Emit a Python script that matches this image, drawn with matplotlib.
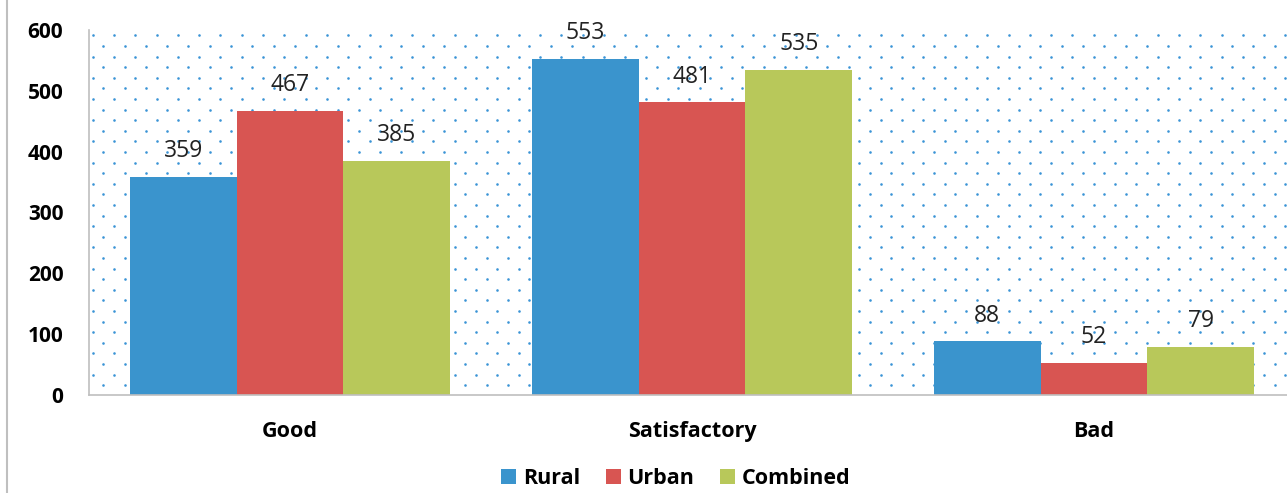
import numpy as np
import matplotlib.pyplot as plt
from matplotlib.lines import Line2D

categories = ["Good", "Satisfactory", "Bad"]
series_names = ["Rural", "Urban", "Combined"]
rural = [359, 553, 88]
urban = [467, 481, 52]
combined = [385, 535, 79]
colors = ["#3A94CD", "#D85552", "#B8C85A"]

plt.rcParams['font.family'] = ['Open Sans', 'DejaVu Sans']

fig = plt.figure(figsize=(12.87, 4.93), dpi=100)
ax = fig.add_axes([89 / 1287, 98 / 493, 1206 / 1287, 365 / 493])

# dotted background texture (staggered lattice, in axes fraction)
dx = 21.3 / 1206
dy = 10.6 / 365
rows = np.arange(0, 1.0 + 1e-9, dy)
dots_x, dots_y = [], []
for i, yy in enumerate(rows):
    start = 0.003 if i % 2 == 0 else 0.003 + dx / 2
    xs = np.arange(start, 1.0, dx)
    dots_x.extend(xs)
    dots_y.extend([1 - 0.015 - yy] * len(xs))
dots_y = np.array(dots_y)
keep = dots_y > 0.005
ax.scatter(np.array(dots_x)[keep], dots_y[keep], s=3.5, color="#3A94D6",
           transform=ax.transAxes, zorder=0, linewidths=0, clip_on=False)

x = np.arange(len(categories))
w = 0.266
for k, (vals, c) in enumerate(zip([rural, urban, combined], colors)):
    pos = x + (k - 1) * w
    bars = ax.bar(pos, vals, width=w, color=c, label=series_names[k], zorder=2)
    for b, v in zip(bars, vals):
        ax.annotate(str(v), (b.get_x() + b.get_width() / 2, v),
                    xytext=(0, 10), textcoords="offset points",
                    ha="center", va="bottom", fontsize=16.5, color="#222222")

ax.set_xlim(-0.5, 2.5)
ax.set_ylim(0, 600)
ax.set_yticks(range(0, 601, 100))
ax.set_xticks(x)
ax.set_xticklabels(categories, fontsize=15.5, fontweight="bold")
for t in ax.get_yticklabels():
    t.set_fontsize(15)
    t.set_fontweight("bold")
ax.tick_params(axis="both", length=0)
ax.tick_params(axis="y", pad=18.5)
ax.tick_params(axis="x", pad=19)
for s in ["top", "right"]:
    ax.spines[s].set_visible(False)
for s in ["left", "bottom"]:
    ax.spines[s].set_color("#BFBFBF")
    ax.spines[s].set_linewidth(1.2)

leg = fig.legend(loc="lower center", bbox_to_anchor=(0.525, -0.032), ncol=3,
                 frameon=False, prop={"size": 15.5, "weight": "bold"},
                 handlelength=0.7, handleheight=0.7, handletextpad=0.3,
                 columnspacing=1.2)

fig.add_artist(Line2D([7 / 1287, 7 / 1287], [0, 1], color="#BFBFBF", lw=1.5))

fig.savefig("out.png", dpi=100)
